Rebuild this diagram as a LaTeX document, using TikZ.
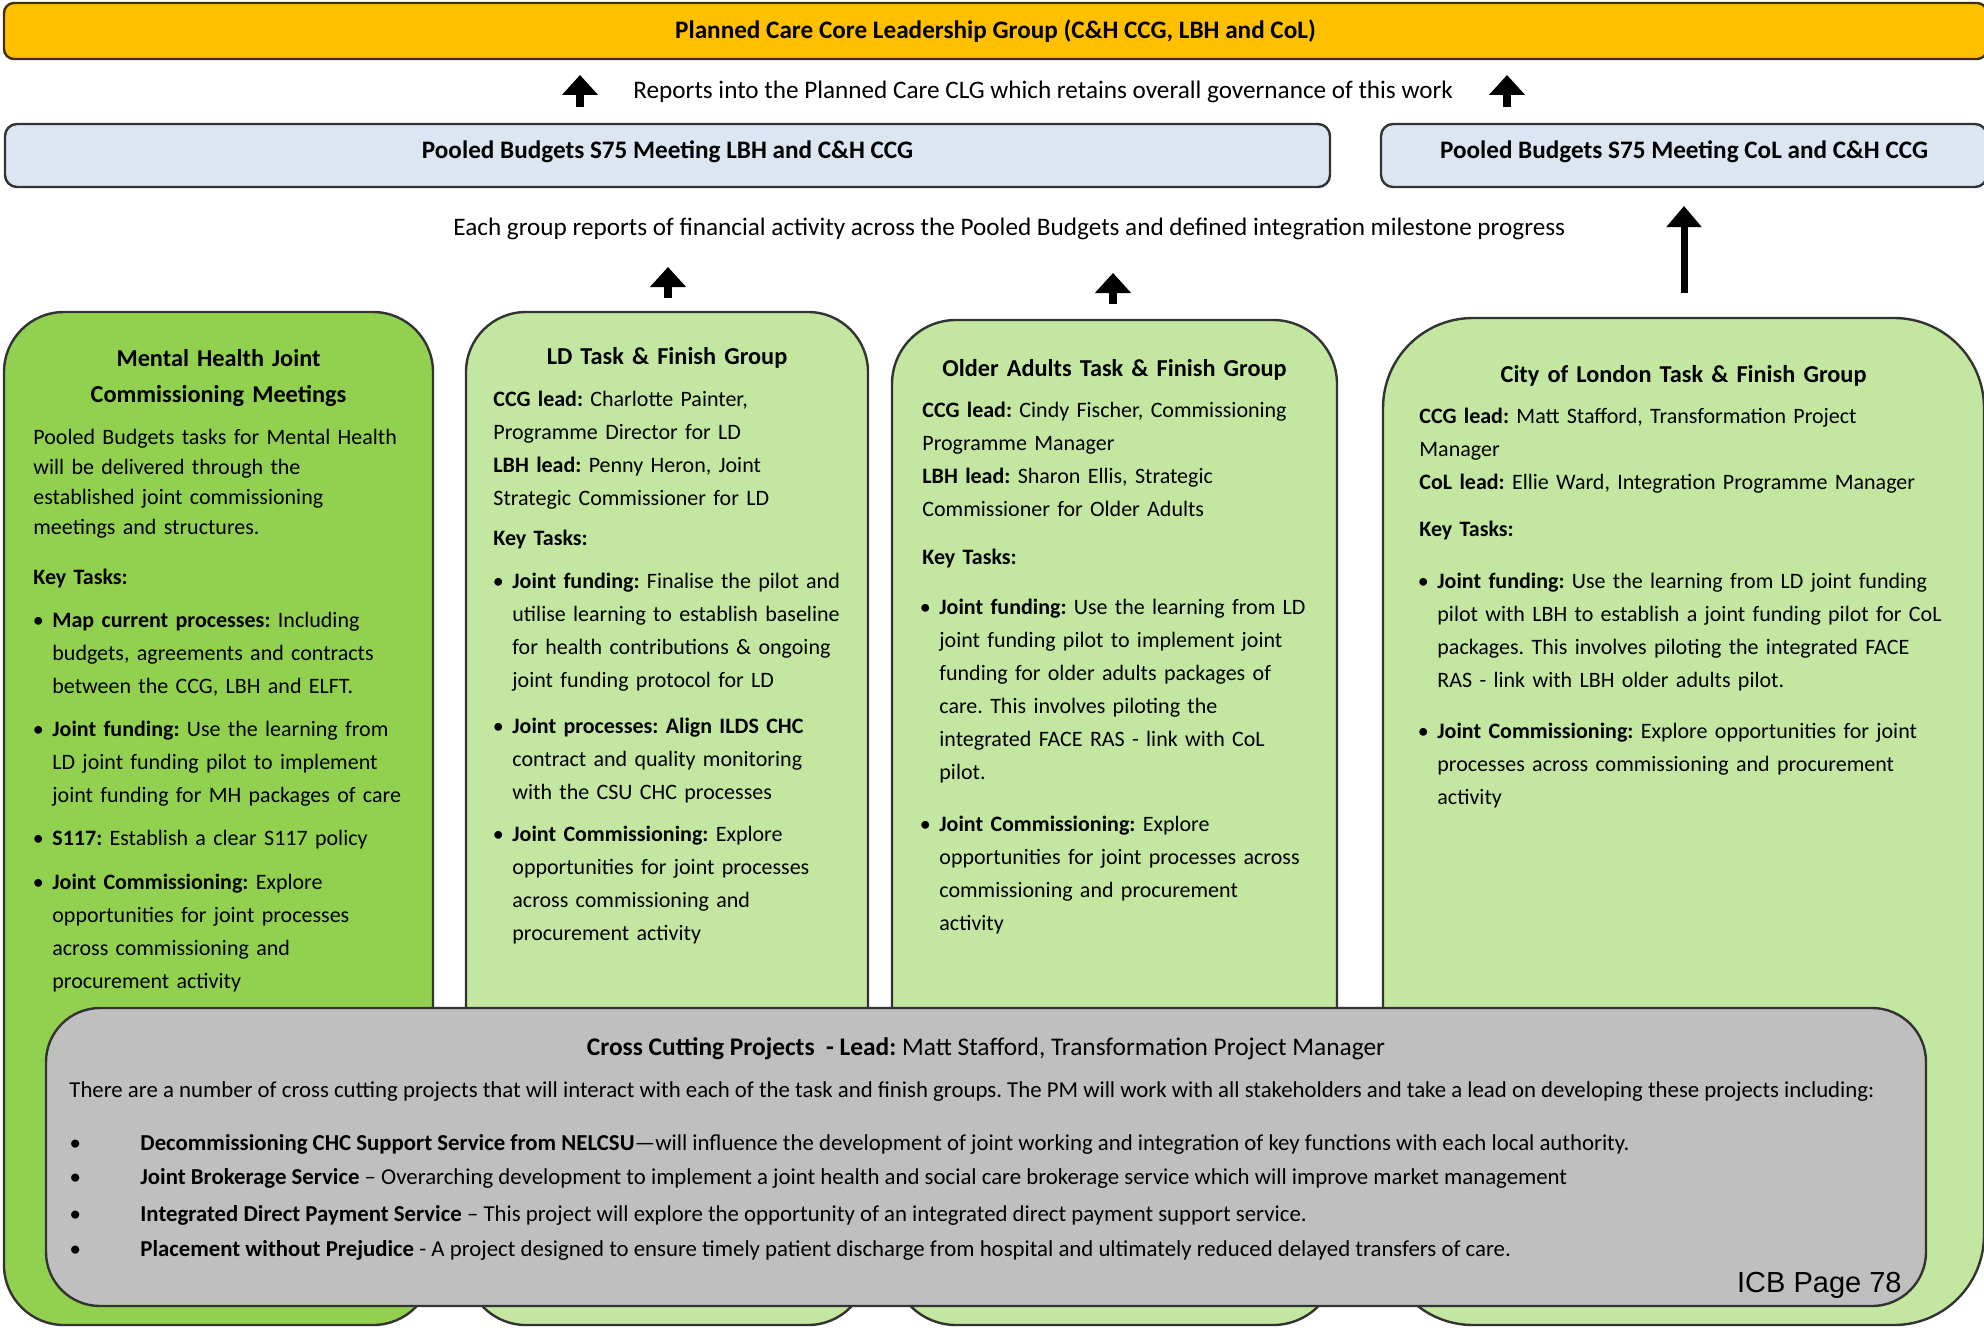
\documentclass[tikz,border=0pt]{standalone}
\usepackage{fontspec}
\setmainfont{Carlito}
\newfontfamily\arialf{Liberation Sans}
\usetikzlibrary{arrows.meta}
\setlength{\parindent}{0pt}
\frenchspacing
\definecolor{goldbar}{HTML}{FFC000}
\definecolor{poolblue}{HTML}{DCE6F2}
\definecolor{mhgreen}{HTML}{92D050}
\definecolor{ltgreen}{HTML}{C3E6A1}
\definecolor{crossgray}{HTML}{BFBFBF}
\definecolor{edgecol}{HTML}{333333}
\newcommand{\bodyfont}{\fontsize{11}{16.5}\selectfont}
\newcommand{\headfont}{\fontsize{12.15}{18}\selectfont\bfseries}
\newcommand{\topfont}{\fontsize{12.6}{15}\selectfont}
\newcommand{\grayfont}{\fontsize{11.4}{14}\selectfont}
\newcommand{\mybul}{\llap{\makebox[0pt][c]{•}\hspace{7pt}}}
\newcommand{\gbul}{\llap{\makebox[0pt][c]{•}\hspace{32.5pt}}}
\begin{document}
\begin{tikzpicture}[x=0.5pt,y=-0.5pt,
  box/.style={draw=edgecol, line width=1.2pt, inner sep=0pt},
  txt/.style={anchor=base west, inner sep=0pt, text width=300pt, align=left, font=\bodyfont},
  head/.style={anchor=base, inner sep=0pt, text width=290pt, align=center, font=\headfont},
  line/.style={anchor=base west, inner sep=0pt},
  uparrow/.style={line width=4pt, -{Triangle[width=17.5pt,length=10pt]}},
  bigarrow/.style={line width=3.5pt, -{Triangle[width=17pt,length=10.5pt]}}
]
\useasboundingbox (0,0) rectangle (1984,1327);
\clip (0,0) rectangle (1984,1327);

% top bar
\node[box, draw=black!75!goldbar, fill=goldbar, rounded corners=5pt, minimum width=991.5pt, minimum height=28pt,
  font=\topfont\bfseries] (lead) at (995.5,31) {Planned Care Core Leadership Group (C\&H CCG, LBH and CoL)};

\coordinate (a1s) at (580,107); \coordinate (a1e) at (580,75);
\coordinate (a2s) at (1507,107); \coordinate (a2e) at (1507,75);
\draw[uparrow] (a1s) -- (a1e);
\draw[uparrow] (a2s) -- (a2e);
\node[line, font=\topfont] (reports) at (633,98) {Reports into the Planned Care CLG which retains overall governance of this work};

% pooled budgets
\node[box, fill=poolblue, rounded corners=6pt, minimum width=662.5pt, minimum height=31.5pt,
  font=\topfont\bfseries, text height=8pt, text depth=4.6pt] (pool1) at (667.5,155.5) {Pooled Budgets S75 Meeting LBH and C\&H CCG};
\node[box, fill=poolblue, rounded corners=6pt, minimum width=303pt, minimum height=31.5pt,
  font=\topfont\bfseries, text height=8pt, text depth=4.6pt] (pool2) at (1684,155.5) {Pooled Budgets S75 Meeting CoL and C\&H CCG};

\node[line, font=\topfont] (each) at (453,235) {Each group reports of financial activity across the Pooled Budgets and defined integration milestone progress};

\coordinate (a3s) at (668,298); \coordinate (a3e) at (668,267);
\coordinate (a4s) at (1113,304); \coordinate (a4e) at (1113,273);
\coordinate (a5s) at (1684,293); \coordinate (a5e) at (1684,206);
\draw[uparrow] (a3s) -- (a3e);
\draw[uparrow] (a4s) -- (a4e);
\draw[bigarrow] (a5s) -- (a5e);

% green boxes
\node[box, fill=mhgreen, rounded corners=30pt, minimum width=214.5pt, minimum height=506.5pt] (mh) at (218.5,818.5) {};
\node[box, fill=ltgreen, rounded corners=30pt, minimum width=201pt, minimum height=506.5pt] (ld) at (667,818.5) {};
\node[box, fill=ltgreen, rounded corners=32pt, minimum width=222.5pt, minimum height=502.5pt] (oa) at (1114.5,822.5) {};
\node[box, fill=ltgreen, rounded corners=45pt, minimum width=300.5pt, minimum height=503.5pt] (col) at (1683.5,821.5) {};

% MH text
\node[head] (mhhead) at (218.5,366) {Mental Health Joint\\Commissioning Meetings};
\node[txt, font=\fontsize{11}{15}\selectfont] (mhintro) at (33,444) {Pooled Budgets tasks for Mental Health\\will be delivered through the\\established joint commissioning\\meetings and structures.};
\node[txt] (mhkey) at (33,584) {\textbf{Key Tasks:}};
\node[txt] (mhb1) at (52,627.5) {\mybul\textbf{Map current processes:} Including\\budgets, agreements and contracts\\between the CCG, LBH and ELFT.};
\node[txt] (mhb2) at (52,736) {\mybul\textbf{Joint funding:} Use the learning from\\LD joint funding pilot to implement\\joint funding for MH packages of care};
\node[txt] (mhb3) at (52,845.5) {\mybul\textbf{S117:} Establish a clear S117 policy};
\node[txt] (mhb4) at (52,889) {\mybul\textbf{Joint Commissioning:} Explore\\opportunities for joint processes\\across commissioning and\\procurement activity};

% LD text
\node[head] (ldhead) at (667,364.5) {LD Task \& Finish Group};
\node[txt] (ldleads) at (493,406) {\textbf{CCG lead:} Charlotte Painter,\\Programme Director for LD\\\textbf{LBH lead:} Penny Heron, Joint\\Strategic Commissioner for LD};
\node[txt] (ldkey) at (493,545) {\textbf{Key Tasks:}};
\node[txt] (ldb1) at (512,588) {\mybul\textbf{Joint funding:} Finalise the pilot and\\utilise learning to establish baseline\\for health contributions \& ongoing\\joint funding protocol for LD};
\node[txt] (ldb2) at (512,733) {\mybul\textbf{Joint processes: Align ILDS CHC}\\contract and quality monitoring\\with the CSU CHC processes};
\node[txt] (ldb3) at (512,841) {\mybul\textbf{Joint Commissioning:} Explore\\opportunities for joint processes\\across commissioning and\\procurement activity};

% OA text
\node[head] (oahead) at (1114.5,376) {Older Adults Task \& Finish Group};
\node[txt] (oaleads) at (922,417.5) {\textbf{CCG lead:} Cindy Fischer, Commissioning\\Programme Manager\\\textbf{LBH lead:} Sharon Ellis, Strategic\\Commissioner for Older Adults};
\node[txt] (oakey) at (922,564.5) {\textbf{Key Tasks:}};
\node[txt] (oab1) at (939,614.5) {\mybul\textbf{Joint funding:} Use the learning from LD\\joint funding pilot to implement joint\\funding for older adults packages of\\care. This involves piloting the\\integrated FACE RAS - link with CoL\\pilot.};
\node[txt] (oab2) at (939,831.5) {\mybul\textbf{Joint Commissioning:} Explore\\opportunities for joint processes across\\commissioning and procurement\\activity};

% CoL text
\node[head] (colhead) at (1683.5,382) {City of London Task \& Finish Group};
\node[txt] (colleads) at (1419,423) {\textbf{CCG lead:} Matt Stafford, Transformation Project\\Manager\\\textbf{CoL lead:} Ellie Ward, Integration Programme Manager};
\node[txt] (colkey) at (1419,536) {\textbf{Key Tasks:}};
\node[txt] (colb1) at (1437,588) {\mybul\textbf{Joint funding:} Use the learning from LD joint funding\\pilot with LBH to establish a joint funding pilot for CoL\\packages. This involves piloting the integrated FACE\\RAS - link with LBH older adults pilot.};
\node[txt] (colb2) at (1437,738.5) {\mybul\textbf{Joint Commissioning:} Explore opportunities for joint\\processes across commissioning and procurement\\activity};

% cross cutting
\node[box, fill=crossgray, rounded corners=27pt, minimum width=940pt, minimum height=149pt] (cross) at (986,1157) {};
\node[anchor=base, inner sep=0pt, font=\fontsize{12.7}{15}\selectfont] (crtitle) at (986,1055) {\textbf{Cross Cutting Projects~ - Lead:} Matt Stafford, Transformation Project Manager};
\node[line, font=\grayfont] (crintro) at (69,1097) {There are a number of cross cutting projects that will interact with each of the task and finish groups. The PM will work with all stakeholders and take a lead on developing these projects including:};
\node[line, font=\grayfont] (crb1) at (140,1150) {\gbul\textbf{Decommissioning CHC Support Service from NELCSU}—will influence the development of joint working and integration of key functions with each local authority.};
\node[line, font=\grayfont] (crb2) at (140,1184) {\gbul\textbf{Joint Brokerage Service} – Overarching development to implement a joint health and social care brokerage service which will improve market management};
\node[line, font=\grayfont] (crb3) at (140,1221) {\gbul\textbf{Integrated Direct Payment Service} – This project will explore the opportunity of an integrated direct payment support service.};
\node[line, font=\grayfont] (crb4) at (140,1256) {\gbul\textbf{Placement without Prejudice} - A project designed to ensure timely patient discharge from hospital and ultimately reduced delayed transfers of care.};
\node[anchor=base east, inner sep=0pt, font=\arialf\fontsize{14.5}{16}\selectfont] (icb) at (1902,1292) {ICB Page 78};
\end{tikzpicture}
\end{document}
